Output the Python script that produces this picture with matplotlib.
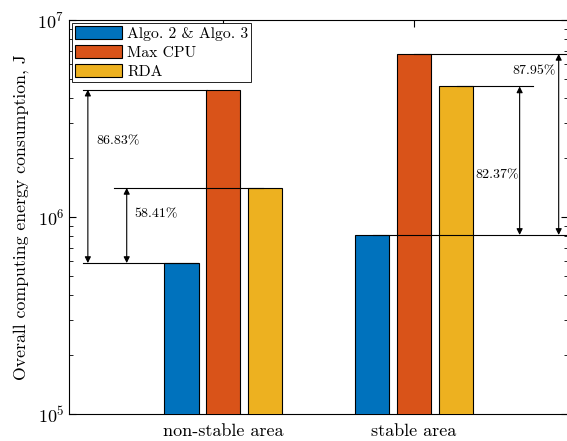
import numpy as np
import matplotlib
matplotlib.use('Agg')
import matplotlib.pyplot as plt

plt.rcParams['font.family'] = 'serif'
plt.rcParams['font.serif'] = ['cmr10']
plt.rcParams['mathtext.fontset'] = 'cm'
plt.rcParams['axes.unicode_minus'] = False

# data
areas = ['non-stable area', 'stable area']
series = ['Algo. 2 & Algo. 3', 'Max CPU', 'RDA']
algo = [5.84e5, 8.11e5]
maxcpu = [4.43e6, 6.73e6]
rda = [1.405e6, 4.60e6]
cut_rda = ['58.41%', '82.37%']
cut_max = ['86.83%', '87.95%']

colors = ['#0072BD', '#D95319', '#EDB120']

fig = plt.figure(figsize=(5.67, 4.41), dpi=100)
ax = fig.add_axes([0.1217, 0.0612, 0.8801, 0.8934])

x = np.arange(1, len(areas) + 1)
w = 0.18
for i, (vals, lab) in enumerate(zip([algo, maxcpu, rda], series)):
    ax.bar(x + (i - 1) * 0.22, vals, w, color=colors[i], edgecolor='k',
           linewidth=0.8, label=lab, zorder=3)

ax.set_yscale('log')
ax.set_ylim(1e5, 1e7)
ax.set_xlim(0.19, 2.81)
ax.set_xticks(x)
ax.set_xticklabels(areas, fontsize=13)
ax.set_ylabel('Overall computing energy consumption, J', fontsize=12.8, labelpad=6)
ax.tick_params(axis='both', which='both', direction='in', top=True, right=True)
ax.tick_params(axis='y', which='major', length=5, labelsize=13)
ax.tick_params(axis='y', which='minor', length=3)
ax.tick_params(axis='x', length=5, pad=7)
for s in ax.spines.values():
    s.set_linewidth(0.8)

lk = dict(color='k', lw=0.8, zorder=4)
ak = dict(arrowstyle='<|-|>', mutation_scale=9, lw=0.8, color='k',
          shrinkA=0, shrinkB=0)

# non-stable area annotations
ax.plot([0.262, 0.913], [maxcpu[0], maxcpu[0]], **lk)
ax.plot([0.425, 1.207], [rda[0], rda[0]], **lk)
ax.plot([0.262, 0.866], [algo[0], algo[0]], **lk)
ax.annotate('', xy=(0.289, algo[0]), xytext=(0.289, maxcpu[0]), arrowprops=ak,
            zorder=4)
ax.annotate('', xy=(0.493, algo[0]), xytext=(0.493, rda[0]), arrowprops=ak,
            zorder=4)
ax.text(0.336, 2.43e6, cut_max[0], fontsize=10, va='center', ha='left')
ax.text(0.535, 1.035e6, cut_rda[0], fontsize=10, va='center', ha='left')

# stable area annotations
ax.plot([2.0, 2.81], [maxcpu[1], maxcpu[1]], **lk)
ax.plot([2.226, 2.625], [rda[1], rda[1]], **lk)
ax.plot([1.785, 2.81], [algo[1], algo[1]], **lk)
ax.annotate('', xy=(2.556, algo[1]), xytext=(2.556, rda[1]), arrowprops=ak,
            zorder=4)
ax.annotate('', xy=(2.761, algo[1]), xytext=(2.761, maxcpu[1]), arrowprops=ak,
            zorder=4)
ax.text(2.552, 1.63e6, cut_rda[1], fontsize=10, va='center', ha='right')
ax.text(2.745, 5.5e6, cut_max[1], fontsize=10, va='center', ha='right')

leg = ax.legend(loc='upper left', fontsize=11.3, handlelength=3.0,
                handleheight=0.9, borderpad=0.2, labelspacing=0.25,
                handletextpad=0.3, borderaxespad=0.2, fancybox=False,
                framealpha=1, edgecolor='k')
leg.get_frame().set_linewidth(0.6)
leg.set_zorder(5)

fig.savefig('out.png', dpi=100)
